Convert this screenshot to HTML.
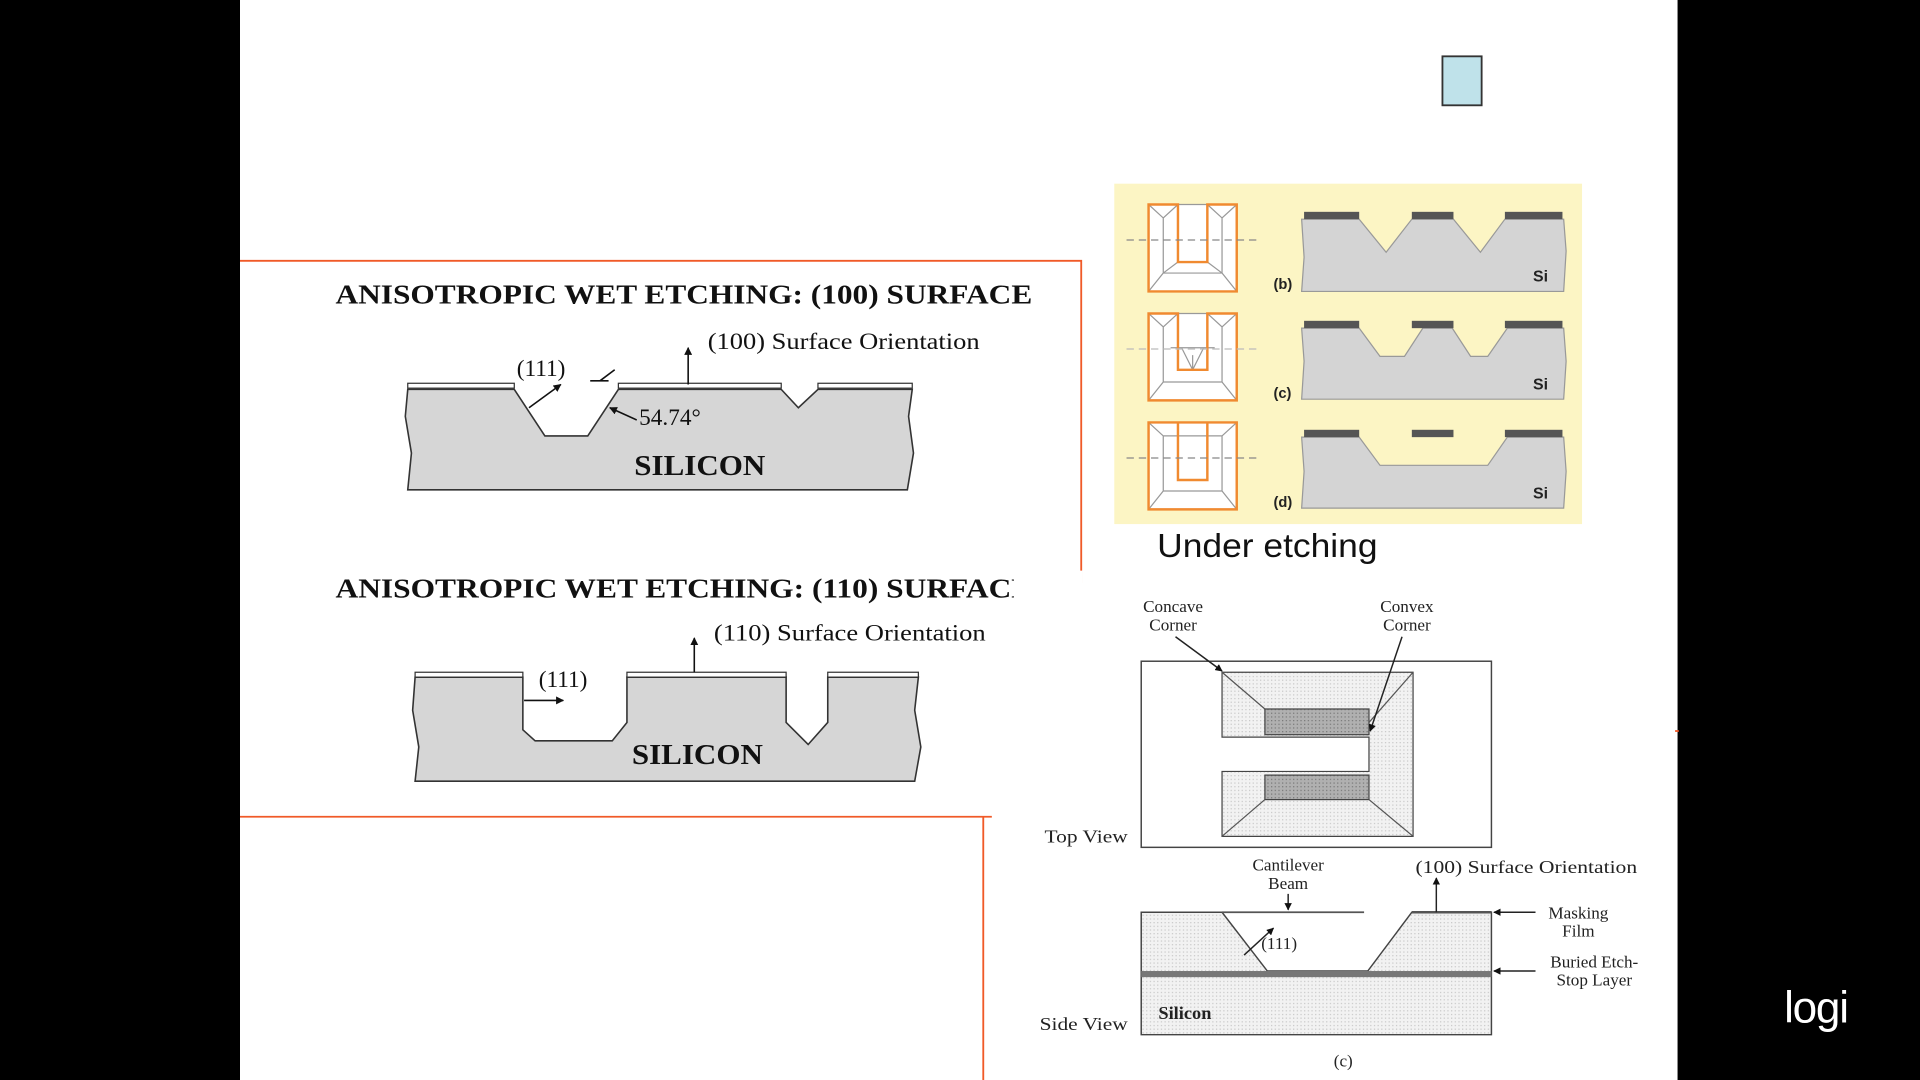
<!DOCTYPE html>
<html><head><meta charset="utf-8"><style>
html,body{margin:0;padding:0;background:#000;}
svg{display:block;}
.serif{font-family:"Liberation Serif",serif;}
.sans{font-family:"Liberation Sans",sans-serif;}
</style></head><body>
<svg width="1920" height="1080" viewBox="0 0 1568 882" xmlns="http://www.w3.org/2000/svg">
<defs>
<marker id="ar" viewBox="0 0 10 10" refX="9" refY="5" markerWidth="5" markerHeight="5" orient="auto"><path d="M0,0L10,5L0,10z" fill="#111"/></marker>
<pattern id="dots" width="3" height="3" patternUnits="userSpaceOnUse"><rect width="3" height="3" fill="#f2f2f2"/><rect width="1" height="1" fill="#c8c8c8"/></pattern>
<pattern id="dots2" width="3" height="3" patternUnits="userSpaceOnUse"><rect width="3" height="3" fill="#b0b0b0"/><rect width="1" height="1" fill="#777"/></pattern>
</defs>
<rect x="0" y="0" width="1568" height="882" fill="#000"/>
<rect x="196" y="0" width="1174" height="882" fill="#fff"/>
<rect x="1178" y="46" width="32" height="40" fill="#bfe2ea" stroke="#333" stroke-width="1.5"/>
<g stroke="#f05a28" stroke-width="1.5" fill="none">
<path d="M196,213H883V476"/>
<path d="M196,667H810M803,667V882"/>
<path d="M1368,597h3"/>
</g>
<text x="274" y="248" class="serif" font-size="22" font-weight="bold" fill="#111" textLength="569" lengthAdjust="spacingAndGlyphs">ANISOTROPIC WET ETCHING:  (100) SURFACE</text>
<text x="274" y="488" class="serif" font-size="22" font-weight="bold" fill="#111" textLength="569" lengthAdjust="spacingAndGlyphs">ANISOTROPIC WET ETCHING:  (110) SURFACE</text>
<rect x="828" y="466" width="56" height="30" fill="#fff"/>
<!-- silicon 1 -->
<path d="M333,318H420L445,356H480L505,318H638L652,333L668,318H745L742,340L746,370L741,400H333L336,370L331,340Z" fill="#d6d6d6" stroke="#333" stroke-width="1.3"/>
<g stroke="#333" stroke-width="1" fill="#fff">
<rect x="333" y="313" width="87" height="4"/><rect x="505" y="313" width="133" height="4"/><rect x="668" y="313" width="77" height="4"/>
</g>
<line x1="432" y1="333" x2="458" y2="314" stroke="#111" stroke-width="1.3" marker-end="url(#ar)"/>
<line x1="482" y1="311" x2="497" y2="311" stroke="#111" stroke-width="1.3"/>
<line x1="490" y1="311" x2="502" y2="302" stroke="#111" stroke-width="1.3"/>
<line x1="520" y1="343" x2="498" y2="333" stroke="#111" stroke-width="1.3" marker-end="url(#ar)"/>
<line x1="562" y1="314" x2="562" y2="284" stroke="#111" stroke-width="1.3" marker-end="url(#ar)"/>
<text x="422" y="307" class="serif" font-size="19" fill="#111">(111)</text>
<text x="522" y="347" class="serif" font-size="19" fill="#111">54.74°</text>
<text x="578" y="285" class="serif" font-size="19" fill="#111" textLength="222" lengthAdjust="spacingAndGlyphs">(100) Surface Orientation</text>
<text x="518" y="388" class="serif" font-size="23" font-weight="bold" fill="#111" textLength="107" lengthAdjust="spacingAndGlyphs">SILICON</text>
<!-- silicon 2 -->
<path d="M339,553H427V596L437,605H500L512,590V553H642V590L660,608L676,590V553H750L747,580L752,610L747,638H339L342,610L337,580Z" fill="#d6d6d6" stroke="#333" stroke-width="1.3"/>
<g stroke="#333" stroke-width="1" fill="#fff">
<rect x="339" y="549" width="88" height="4"/><rect x="512" y="549" width="130" height="4"/><rect x="676" y="549" width="74" height="4"/>
</g>
<line x1="428" y1="572" x2="460" y2="572" stroke="#111" stroke-width="1.3" marker-end="url(#ar)"/>
<line x1="567" y1="549" x2="567" y2="521" stroke="#111" stroke-width="1.3" marker-end="url(#ar)"/>
<text x="440" y="561" class="serif" font-size="19" fill="#111">(111)</text>
<text x="583" y="523" class="serif" font-size="19" fill="#111" textLength="222" lengthAdjust="spacingAndGlyphs">(110) Surface Orientation</text>
<text x="516" y="624" class="serif" font-size="23" font-weight="bold" fill="#111" textLength="107" lengthAdjust="spacingAndGlyphs">SILICON</text>
<!-- yellow panel -->
<rect x="910" y="150" width="382" height="278" fill="#fcf5c4"/>
<!-- row b -->
<g stroke="#999" stroke-width="1" fill="#fff">
<path d="M938,167H1010V238H938Z"/>
<path d="M938,167L950,178V223L938,238M962,167L950,178M986,167L998,178V223L1010,238M1010,167L998,178M950,223H998M962,214H986M950,223L962,214M998,223L986,214"/>
</g>
<path d="M938,167H962V214H986V167H1010V238H938Z" fill="none" stroke="#f08a30" stroke-width="2"/>
<line x1="920" y1="196" x2="1030" y2="196" stroke="#888" stroke-width="1" stroke-dasharray="6,4"/>
<path d="M1063,179H1110L1132,206L1153,179H1187L1209,206L1229,179H1277L1279,205L1277,238H1063L1065,210Z" fill="#d4d4d4" stroke="#999"/>
<rect x="1065" y="173" width="45" height="6" fill="#555"/><rect x="1153" y="173" width="34" height="6" fill="#555"/><rect x="1229" y="173" width="47" height="6" fill="#555"/>
<text x="1040" y="236" class="sans" font-size="12" font-weight="bold" fill="#222">(b)</text>
<text x="1252" y="230" class="sans" font-size="13" font-weight="bold" fill="#222">Si</text>
<!-- row c -->
<g stroke="#999" stroke-width="1" fill="#fff">
<path d="M938,256H1010V327H938Z"/>
<path d="M938,256L950,267V312L938,327M962,256L950,267M986,256L998,267V312L1010,327M1010,256L998,267M950,312H998M965,284L974,302L983,284M974,290V302M956,284H992"/>
</g>
<path d="M938,256H962V302H986V256H1010V327H938Z" fill="none" stroke="#f08a30" stroke-width="2"/>
<line x1="920" y1="285" x2="1030" y2="285" stroke="#bbb" stroke-width="1" stroke-dasharray="6,4"/>
<path d="M1063,268H1110L1127,291H1147L1162,268H1186L1201,291H1215L1231,268H1277L1279,295L1277,326H1063L1065,295Z" fill="#d4d4d4" stroke="#999"/>
<rect x="1065" y="262" width="45" height="6" fill="#555"/><rect x="1153" y="262" width="34" height="6" fill="#555"/><rect x="1229" y="262" width="47" height="6" fill="#555"/>
<text x="1040" y="325" class="sans" font-size="12" font-weight="bold" fill="#222">(c)</text>
<text x="1252" y="318" class="sans" font-size="13" font-weight="bold" fill="#222">Si</text>
<!-- row d -->
<g stroke="#999" stroke-width="1" fill="#fff">
<path d="M938,345H1010V416H938Z"/>
<path d="M938,345L950,356H998L1010,345M938,416L950,401H998L1010,416M950,356V401M998,356V401"/>
</g>
<path d="M962,345V392H986V345M938,345H1010V416H938Z" fill="none" stroke="#f08a30" stroke-width="2"/>
<line x1="920" y1="374" x2="1030" y2="374" stroke="#888" stroke-width="1" stroke-dasharray="6,4"/>
<path d="M1063,357H1110L1127,380H1215L1231,357H1277L1279,385L1277,415H1063L1065,385Z" fill="#d4d4d4" stroke="#999"/>
<rect x="1065" y="351" width="45" height="6" fill="#555"/><rect x="1153" y="351" width="34" height="6" fill="#555"/><rect x="1229" y="351" width="47" height="6" fill="#555"/>
<text x="1040" y="414" class="sans" font-size="12" font-weight="bold" fill="#222">(d)</text>
<text x="1252" y="407" class="sans" font-size="13" font-weight="bold" fill="#222">Si</text>
<text x="945" y="455" class="sans" font-size="27" fill="#111" textLength="180" lengthAdjust="spacingAndGlyphs">Under etching</text>
<!-- bottom right diagram -->
<rect x="932" y="540" width="286" height="152" fill="#fff" stroke="#444" stroke-width="1.2"/>
<path d="M998,549H1154V683H998V630H1118V602H998Z" fill="url(#dots)" stroke="#444"/>
<rect x="1033" y="579" width="85" height="21" fill="url(#dots2)" stroke="#444"/>
<rect x="1033" y="633" width="85" height="20" fill="url(#dots2)" stroke="#444"/>
<g stroke="#555" stroke-width="1" fill="none">
<path d="M998,549L1033,579M1154,549L1118,590M1118,653L1154,683M1033,653L998,683"/>
</g>
<line x1="960" y1="520" x2="998" y2="548" stroke="#222" stroke-width="1.2" marker-end="url(#ar)"/>
<line x1="1145" y1="520" x2="1119" y2="597" stroke="#222" stroke-width="1.2" marker-end="url(#ar)"/>
<text x="958" y="500" class="serif" font-size="14" fill="#222" text-anchor="middle">Concave</text>
<text x="958" y="515" class="serif" font-size="14" fill="#222" text-anchor="middle">Corner</text>
<text x="1149" y="500" class="serif" font-size="14" fill="#222" text-anchor="middle">Convex</text>
<text x="1149" y="515" class="serif" font-size="14" fill="#222" text-anchor="middle">Corner</text>
<text x="853" y="688" class="serif" font-size="15" fill="#222" textLength="68" lengthAdjust="spacingAndGlyphs">Top View</text>
<path d="M932,745H998L1035,793H1117L1153,745H1218V845H932Z" fill="url(#dots)" stroke="#444" stroke-width="1.2"/>
<rect x="932" y="793" width="286" height="5" fill="#777"/>
<line x1="998" y1="745" x2="1114" y2="745" stroke="#555" stroke-width="1.5"/>
<line x1="1153" y1="745" x2="1218" y2="745" stroke="#555" stroke-width="2"/>
<line x1="1016" y1="780" x2="1040" y2="758" stroke="#222" stroke-width="1.2" marker-end="url(#ar)"/>
<line x1="1052" y1="730" x2="1052" y2="743" stroke="#222" stroke-width="1.2" marker-end="url(#ar)"/>
<line x1="1173" y1="745" x2="1173" y2="717" stroke="#222" stroke-width="1.2" marker-end="url(#ar)"/>
<line x1="1254" y1="745" x2="1220" y2="745" stroke="#222" stroke-width="1.2" marker-end="url(#ar)"/>
<line x1="1254" y1="793" x2="1220" y2="793" stroke="#222" stroke-width="1.2" marker-end="url(#ar)"/>
<text x="1052" y="711" class="serif" font-size="14" fill="#222" text-anchor="middle">Cantilever</text>
<text x="1052" y="726" class="serif" font-size="14" fill="#222" text-anchor="middle">Beam</text>
<text x="1030" y="775" class="serif" font-size="14" fill="#222">(111)</text>
<text x="1156" y="713" class="serif" font-size="15" fill="#222" textLength="181" lengthAdjust="spacingAndGlyphs">(100) Surface Orientation</text>
<text x="1289" y="750" class="serif" font-size="14" fill="#222" text-anchor="middle">Masking</text>
<text x="1289" y="765" class="serif" font-size="14" fill="#222" text-anchor="middle">Film</text>
<text x="1302" y="790" class="serif" font-size="14" fill="#222" text-anchor="middle">Buried Etch-</text>
<text x="1302" y="805" class="serif" font-size="14" fill="#222" text-anchor="middle">Stop Layer</text>
<text x="946" y="832" class="serif" font-size="15" font-weight="bold" fill="#222">Silicon</text>
<text x="849" y="841" class="serif" font-size="15" fill="#222" textLength="72" lengthAdjust="spacingAndGlyphs">Side View</text>
<text x="1097" y="871" class="serif" font-size="14" fill="#222" text-anchor="middle">(c)</text>
<text x="1457" y="835" class="sans" font-size="36" fill="#fff" letter-spacing="-1">logi</text>
</svg>
</body></html>
